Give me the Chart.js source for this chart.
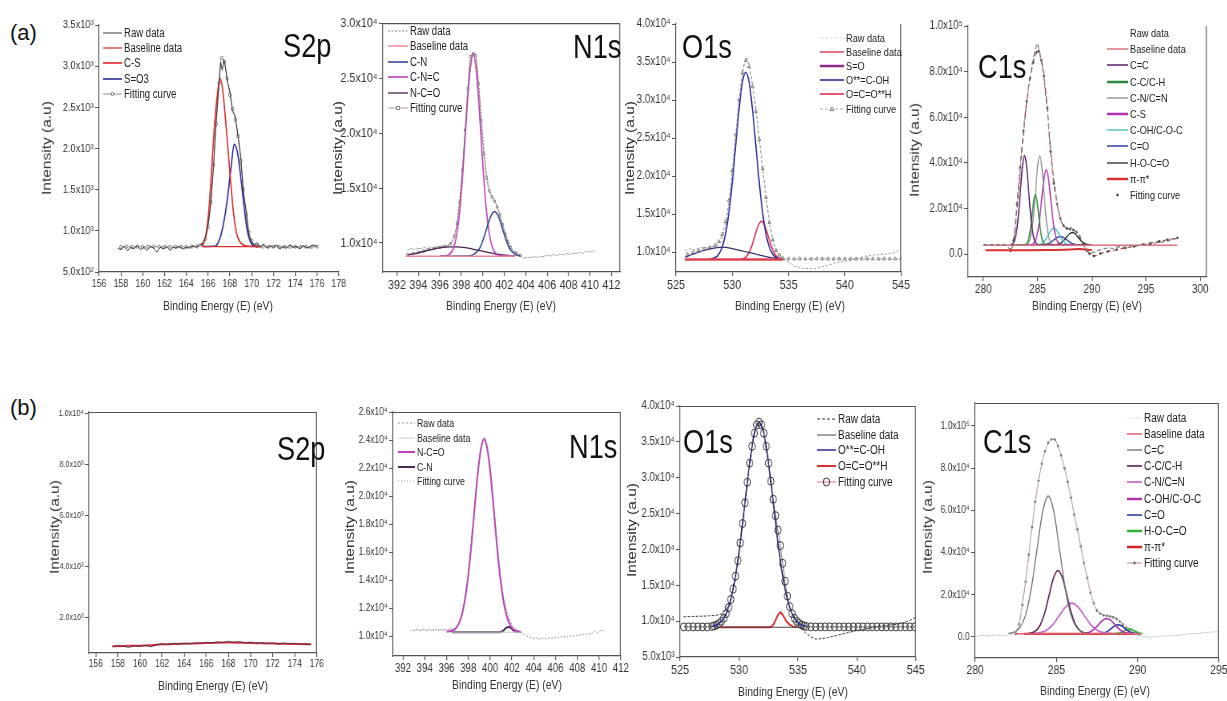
<!DOCTYPE html>
<html><head><meta charset="utf-8">
<script src="https://cdn.jsdelivr.net/npm/chart.js@4.4.1/dist/chart.umd.min.js"></script>
<style>
html,body{margin:0;padding:0;background:#fff;overflow:hidden;}
#page{position:relative;width:1227px;height:701px;overflow:hidden;background:#fff;color:#222;
  font-family:'Liberation Sans',Arial,sans-serif;}
.pc{position:absolute;transform-origin:0 0;}
.pc canvas{display:block;}
.ttl{position:absolute;font-size:34px;line-height:36px;white-space:nowrap;color:#111;z-index:5;transform:scaleX(0.8);transform-origin:0 50%;}
.tag{position:absolute;font-size:22px;line-height:26px;color:#111;}
.xt{position:absolute;font-size:13px;white-space:nowrap;transform:translate(-50%,-50%) scaleX(0.8);color:#333;}
.yt{position:absolute;font-size:15.5px;white-space:nowrap;color:#333;
  transform:translate(-50%,-50%) rotate(-90deg) scaleY(0.8);}
.li{position:absolute;white-space:nowrap;display:flex;align-items:center;height:16px;color:#222;z-index:6;}
.li svg{flex:none;}
.li span{display:inline-block;transform:scaleX(0.8);transform-origin:0 50%;margin-left:2px;}
</style>
</head>
<body>
<div id="page"></div>
<script>
// ---------- (a) S2p ----------
const a1Labels = ['Raw data','Baseline data','C-S','S=O3','Fitting curve'];
const a1XTicks = [156,158,160,162,164,166,168,170,172,174,176,178];
const a1YTicks = [500,1000,1500,2000,2500,3000,3500];
const a1Raw = [[157.7,790],[158.0,770],[158.3,810],[158.6,760],[158.9,800],[159.2,780],[159.5,820],[159.8,770],[160.1,800],[160.4,760],[160.7,810],[161.0,790],[161.3,740],[161.6,800],[161.9,780],[162.2,810],[162.5,760],[162.8,800],[163.1,790],[163.4,810],[163.7,780],[164.0,800],[164.3,790],[164.6,820],[164.9,800],[165.2,830],[165.5,850],[165.75,920],[166.0,1080],[166.25,1320],[166.5,1780],[166.75,2350],[167.0,2750],[167.15,3050],[167.3,2950],[167.45,3080],[167.6,2980],[167.75,2820],[168.0,2700],[168.25,2450],[168.5,2400],[168.75,2150],[169.0,1900],[169.25,1450],[169.5,1250],[169.75,950],[170.0,870],[170.25,820],[170.5,860],[170.8,800],[171.1,840],[171.4,790],[171.7,820],[172.0,800],[172.3,830],[172.6,780],[172.9,810],[173.2,790],[173.5,830],[173.8,800],[174.1,810],[174.4,780],[174.7,820],[175.0,800],[175.3,790],[175.6,830],[176.0,810]];
const a1Baseline = [[165.5,808],[170.8,808]];
const a1CS = [[165.4,812],[165.8,950],[166.1,1300],[166.35,1800],[166.6,2300],[166.85,2650],[167.1,2850],[167.35,2700],[167.6,2350],[167.85,1950],[168.1,1550],[168.35,1200],[168.6,980],[168.9,870],[169.3,825],[169.8,812],[170.8,810]];
const a1SO3 = [[165.5,810],[166.6,812],[166.9,850],[167.2,960],[167.5,1150],[167.8,1420],[168.1,1760],[168.4,2050],[168.7,1950],[169.0,1650],[169.3,1300],[169.6,1000],[169.9,860],[170.2,820],[170.6,810]];
const a1Fit = [[158,805],[158.5,808],[159,806],[159.5,808],[160,805],[160.5,807],[161,806],[161.5,808],[162,805],[162.5,807],[163,806],[163.5,808],[164,806],[164.5,808],[165,810],[165.5,830],[165.75,900],[166,1050],[166.25,1350],[166.5,1800],[166.75,2300],[167,2800],[167.25,3100],[167.5,3050],[167.75,2850],[168,2650],[168.25,2480],[168.5,2350],[168.75,2150],[169,1850],[169.25,1500],[169.5,1200],[169.75,980],[170,880],[170.25,830],[170.5,815],[171,808],[171.5,806],[172,808],[172.5,805],[173,807],[173.5,806],[174,808],[174.5,806],[175,807],[175.5,806],[176,808]];

// ---------- (a) N1s ----------
const a2Labels = ['Raw data','Baseline data','C-N','C-N=C','N-C=O','Fitting curve'];
const a2XTicks = [392,394,396,398,400,402,404,406,408,410,412];
const a2YTicks = [10000,15000,20000,25000,30000];
const a2Raw = [[393,9350],[393.3,9500],[393.6,9400],[393.9,9550],[394.2,9450],[394.5,9600],[394.8,9500],[395.1,9650],[395.4,9550],[395.7,9700],[396.0,9650],[396.3,9750],[396.6,9700],[396.9,9850],[397.2,10200],[397.5,11200],[397.8,13500],[398.1,16800],[398.4,20500],[398.7,24500],[399.0,26800],[399.2,27300],[399.4,26900],[399.7,23600],[400.0,19800],[400.3,16600],[400.6,14900],[400.9,14200],[401.2,13700],[401.5,12900],[401.8,11900],[402.1,10900],[402.4,10100],[402.7,9500],[403.0,9100],[403.3,8900],[403.6,8750],[403.9,8600],[404.2,8700],[404.5,8650],[404.8,8750],[405.1,8700],[405.4,8800],[405.7,8750],[406.0,8900],[406.3,8800],[406.6,8950],[406.9,8850],[407.2,9000],[407.5,8900],[407.8,9050],[408.1,8950],[408.4,9100],[408.7,9000],[409.0,9150],[409.3,9050],[409.6,9250],[409.9,9150],[410.2,9300],[410.5,9200]];
const a2Baseline = [[392.8,8800],[402.9,8800]];
const a2CN = [[396,8800],[398.6,8816],[399.1,8915],[399.6,9350],[399.85,9810],[400.1,10470],[400.35,11260],[400.6,12050],[400.85,12640],[401.1,12860],[401.35,12640],[401.6,12050],[401.85,11260],[402.1,10470],[402.35,9810],[402.6,9350],[403.1,8915],[403.5,8810]];
const a2CNC = [[396,8800],[396.6,8845],[397.1,9190],[397.35,9760],[397.6,10900],[397.85,12870],[398.1,15800],[398.35,19470],[398.6,23240],[398.85,26090],[399.1,27170],[399.35,26090],[399.6,23240],[399.85,19470],[400.1,15800],[400.35,12870],[400.6,10900],[400.85,9760],[401.1,9190],[401.6,8845],[402.9,8800]];
const a2NCO = [[393,8900],[394,9100],[395,9350],[396,9550],[397,9650],[397.5,9650],[398.5,9550],[399.5,9350],[400.5,9150],[401.5,8950],[402.5,8850],[403,8820]];
const a2Fit = [[393,8950],[393.5,9050],[394,9150],[394.5,9280],[395,9400],[395.5,9500],[396,9600],[396.5,9700],[397,9950],[397.35,10610],[397.6,11750],[397.85,13710],[398.1,16620],[398.35,20270],[398.6,24040],[398.85,26960],[399.1,27225],[399.35,27080],[399.6,24490],[399.85,21160],[400.1,18120],[400.35,15950],[400.6,14750],[400.85,14170],[401.1,13800],[401.35,13270],[401.6,12545],[401.85,11680],[402.1,10820],[402.35,10110],[402.6,9600],[403.1,9115],[403.5,8900]];

// ---------- (a) O1s ----------
const a3Labels = ['Raw data','Baseline data','S=O','O**=C-OH','O=C=O**H','Fitting curve'];
const a3XTicks = [525,530,535,540,545];
const a3YTicks = [10000,15000,20000,25000,30000,35000,40000];
const a3Raw = [[525.8,10200],[526.2,10400],[526.6,10300],[527,10500],[527.4,10600],[527.8,10550],[528.2,10700],[528.6,10800],[529.0,11300],[529.3,12800],[529.6,15200],[529.9,18900],[530.2,23500],[530.5,28300],[530.8,32500],[531.1,35000],[531.3,35600],[531.5,34700],[531.8,32100],[532.1,28800],[532.4,25000],[532.7,21000],[533.0,17300],[533.3,14000],[533.6,11600],[533.9,10200],[534.2,9400],[534.5,9000],[534.8,8800],[535.2,8500],[535.6,8100],[536.0,7950],[536.4,7800],[536.8,7850],[537.2,7750],[537.6,7900],[538.0,8100],[538.4,8200],[538.8,8400],[539.2,8600],[539.6,8700],[540.0,8800],[540.5,8900],[541,9100],[541.5,9300],[542,9500],[542.5,9600],[543,9650],[543.5,9700],[544,9800],[544.5,10000],[545,10300]];
const a3Baseline = [[525.8,9000],[534.5,9000]];
const a3SO = [[525.8,9300],[526.5,9700],[527.5,10200],[528.5,10550],[529.2,10650],[530,10450],[531,10100],[532,9750],[533,9400],[534,9120],[534.5,9020]];
const a3OCOH = [[527.9,9010],[528.5,9270],[528.8,9700],[529.1,10630],[529.4,12330],[529.7,15140],[530.0,19130],[530.3,23960],[530.6,28720],[530.9,32320],[531.2,33650],[531.5,32320],[531.8,28720],[532.1,23960],[532.4,19130],[532.7,15140],[533.0,12330],[533.3,10630],[533.6,9700],[533.9,9270],[534.5,9010]];
const a3OCOOH = [[530.8,9055],[531.1,9220],[531.4,9680],[531.7,10640],[532.0,12070],[532.3,13450],[532.6,14050],[532.9,13450],[533.2,12070],[533.5,10640],[533.8,9680],[534.1,9220],[534.4,9055]];
const a3Fit = [[526,9700],[526.5,9950],[527,10200],[527.5,10400],[528,10600],[528.5,10900],[528.8,11400],[529.1,12300],[529.4,14000],[529.7,16800],[530.0,20700],[530.3,25400],[530.6,30000],[530.9,33600],[531.2,35200],[531.5,34400],[531.8,31800],[532.1,28500],[532.4,24800],[532.7,21000],[533.0,17200],[533.3,13900],[533.6,11600],[533.9,10200],[534.2,9600],[534.5,9200],[535,9100],[535.5,9100],[536,9100],[536.5,9100],[537,9100],[537.5,9100],[538,9100],[538.5,9100],[539,9100],[539.5,9100],[540,9100],[540.5,9100],[541,9100],[541.5,9100],[542,9100],[542.5,9100],[543,9100],[543.5,9100],[544,9100],[544.5,9100],[545,9100]];

// ---------- (a) C1s ----------
const a4Labels = ['Raw data','Baseline data','C=C','C-C/C-H','C-N/C=N','C-S','C-OH/C-O-C','C=O','H-O-C=O','π-π*','Fitting curve'];
const a4XTicks = [280,285,290,295,300];
const a4YTicks = [0,20000,40000,60000,80000,100000];
const a4Raw = [[280,4300],[280.5,4000],[281,4400],[281.5,4100],[282,4200],[282.4,2500],[282.7,2200],[283.0,14000],[283.3,30000],[283.6,48000],[283.9,62000],[284.2,74000],[284.5,83000],[284.8,90000],[285.0,92500],[285.2,88000],[285.45,82000],[285.7,72000],[286.0,58000],[286.3,41000],[286.6,29000],[286.9,19500],[287.2,14000],[287.5,12000],[287.8,11000],[288.1,11500],[288.4,10500],[288.7,9000],[289.0,6500],[289.3,3500],[289.6,1200],[290.0,500],[290.5,1500],[291,2200],[291.5,2800],[292,2500],[292.5,3300],[293,3000],[293.5,3800],[294,3600],[294.5,4200],[295,4500],[295.5,4300],[296,5000],[296.5,5300],[297,5800],[297.5,6500],[297.9,7000]];
const a4Baseline = [[280,3950],[297.9,3950]];
const a4CC = [[282.5,4000],[282.6,4270],[282.8,5220],[283.0,8270],[283.2,15250],[283.4,26540],[283.6,38140],[283.8,43200],[284.0,38140],[284.2,26540],[284.4,15250],[284.6,8270],[284.8,5220],[285.0,4270],[285.2,4050],[289.8,4000]];
const a4CCH = [[282.5,4000],[283.9,4240],[284.05,4970],[284.2,6970],[284.35,11150],[284.5,17350],[284.65,23400],[284.8,26000],[284.95,23400],[285.1,17350],[285.25,11150],[285.4,6970],[285.55,4970],[285.7,4240],[285.9,4050],[289.8,4000]];
const a4CN = [[282.5,4000],[283.8,4050],[284.0,4270],[284.2,5220],[284.4,8270],[284.6,15250],[284.8,26540],[285.0,38140],[285.2,43200],[285.4,38140],[285.6,26540],[285.8,15250],[286.0,8270],[286.2,5220],[286.4,4270],[286.6,4050],[289.8,4000]];
const a4CS = [[282.5,4000],[284.2,4040],[284.4,4130],[284.6,4560],[284.8,5930],[285.0,9360],[285.2,15850],[285.4,24890],[285.6,33380],[285.8,36900],[286.0,33380],[286.2,24890],[286.4,15850],[286.6,9360],[286.8,5930],[287.0,4560],[287.2,4130],[287.4,4040],[289.8,4000]];
const a4COH = [[282.5,4000],[285.0,4080],[285.25,4330],[285.5,5000],[285.75,6400],[286.0,8490],[286.25,10530],[286.5,11400],[286.75,10530],[287.0,8490],[287.25,6400],[287.5,5000],[287.75,4330],[288.0,4080],[289.8,4000]];
const a4CO = [[282.5,4000],[285.3,4040],[285.6,4160],[285.9,4500],[286.2,5200],[286.5,6250],[286.8,7260],[287.1,7700],[287.4,7260],[287.7,6250],[288.0,5200],[288.3,4500],[288.6,4160],[288.9,4040],[289.8,4000]];
const a4HOCO = [[282.5,4000],[286.55,4060],[286.825,4240],[287.1,4740],[287.375,5790],[287.65,7340],[287.925,8850],[288.2,9500],[288.475,8850],[288.75,7340],[289.025,5790],[289.3,4740],[289.575,4240],[289.85,4060],[290.0,4000]];
const a4PiPi = [[280.2,1700],[283,1750],[286,1850],[288,2100],[288.8,2300],[289.5,2000],[290,1800]];
const a4Fit = [[282.5,1500],[282.8,6000],[283.1,22000],[283.4,38000],[283.7,54000],[284.0,67000],[284.3,77000],[284.6,84000],[284.9,88500],[285.1,89000],[285.35,85000],[285.6,78000],[285.9,64000],[286.2,45000],[286.5,31000],[286.8,22000],[287.1,15500],[287.4,12500],[287.7,11300],[288.0,11000],[288.3,10600],[288.6,9600],[288.9,7500],[289.2,4600],[289.5,1800],[289.8,200],[290.2,-800],[290.8,300],[291.5,1200],[292.3,2000],[293.1,2700],[293.9,3400],[294.7,4200],[295.4,4800],[296.2,5600],[297.0,6300],[297.9,7200]];

// ---------- (b) S2p ----------
const b1Labels = ['Raw data','Fitting curve'];
const b1XTicks = [156,158,160,162,164,166,168,170,172,174,176];
const b1YTicks = [2000,4000,6000,8000,10000];
const b1Raw = [[157.5,840],[158,900],[158.5,860],[159,820],[159.5,880],[160,850],[160.5,900],[161,840],[161.5,920],[162,960],[162.5,930],[163,980],[163.5,950],[164,990],[164.5,960],[165,1000],[165.5,980],[166,1020],[166.5,990],[167,1040],[167.5,1010],[168,1060],[168.5,1020],[169,1050],[169.5,990],[170,1030],[170.5,980],[171,1010],[171.5,970],[172,1000],[172.5,950],[173,990],[173.5,960],[174,980],[174.5,940],[175,960],[175.5,930]];
const b1Fit = [[157.5,860],[159,880],[161,900],[162,940],[164,960],[166,990],[168,1010],[170,990],[172,970],[174,950],[175.5,940]];

// ---------- (b) N1s ----------
const b2Labels = ['Raw data','Baseline data','N-C=O','C-N','Fitting curve'];
const b2XTicks = [392,394,396,398,400,402,404,406,408,410,412];
const b2YTicks = [10000,12000,14000,16000,18000,20000,22000,24000,26000];
const b2Raw = [[392.7,10450],[393,10380],[393.3,10500],[393.6,10420],[393.9,10520],[394.2,10400],[394.5,10480],[394.8,10430],[395.1,10530],[395.4,10420],[395.7,10500],[396,10450],[396.3,10550],[396.6,10480],[396.9,10700],[397.2,11000],[397.5,11900],[397.8,13300],[398.1,15200],[398.4,17700],[398.7,20300],[399.0,22500],[399.3,23800],[399.5,24200],[399.7,23700],[400.0,22200],[400.3,19800],[400.6,17000],[400.9,14700],[401.2,12900],[401.5,11800],[401.8,11100],[402.1,10700],[402.4,10450],[402.7,10350],[403.0,10200],[403.3,10050],[403.6,9950],[403.9,9850],[404.2,9900],[404.5,9800],[404.8,9870],[405.1,9820],[405.4,9900],[405.7,9850],[406,9950],[406.3,9900],[406.6,10000],[406.9,9950],[407.2,10050],[407.5,10000],[407.8,10100],[408.1,10050],[408.4,10150],[408.7,10100],[409,10200],[409.3,10150],[409.6,10400],[409.9,10250],[410.2,10450],[410.5,10350]];
const b2Baseline = [[396.5,10300],[402.5,10300]];
const b2NCO = [[396.0,10330],[396.45,10380],[396.75,10500],[397.05,10790],[397.35,11370],[397.65,12420],[397.95,14040],[398.25,16280],[398.55,18910],[398.85,21470],[399.15,23350],[399.45,24050],[399.75,23350],[400.05,21470],[400.35,18910],[400.65,16280],[400.95,14040],[401.25,12420],[401.55,11370],[401.85,10790],[402.15,10500],[402.45,10380],[402.8,10320]];
const b2CN = [[396.5,10300],[400.8,10300],[401.1,10350],[401.3,10470],[401.5,10620],[401.7,10670],[401.9,10600],[402.1,10450],[402.3,10350],[402.5,10300]];
const b2Fit = [[393,10450],[394,10450],[395,10450],[396,10450],[396.5,10480],[397,10800],[397.3,11400],[397.6,12400],[397.9,14000],[398.2,16200],[398.5,18800],[398.8,21400],[399.1,23300],[399.45,24200],[399.8,23300],[400.1,21400],[400.4,18800],[400.7,16200],[401.0,14100],[401.3,12600],[401.6,11700],[401.9,11000],[402.2,10600],[402.5,10420],[403,10400]];

// ---------- (b) O1s ----------
const b3Labels = ['Raw data','Baseline data','O**=C-OH','O=C=O**H','Fitting curve'];
const b3XTicks = [525,530,535,540,545];
const b3YTicks = [5000,10000,15000,20000,25000,30000,35000,40000];
const b3Raw = [[525.3,10600],[526,10650],[527,10700],[527.5,10750],[528,10800],[528.5,11000],[528.9,11600],[529.3,13200],[529.7,16400],[530.1,21000],[530.5,26600],[530.9,32100],[531.3,36300],[531.7,37900],[532.1,36300],[532.5,32000],[532.9,26500],[533.3,21000],[533.7,16400],[534.1,13000],[534.5,11000],[534.9,9800],[535.3,9000],[535.7,8300],[536.1,7800],[536.5,7500],[537,7550],[537.5,7700],[538,7900],[538.5,8100],[539,8300],[539.5,8500],[540,8700],[540.5,8850],[541,9000],[541.5,9150],[542,9300],[542.5,9400],[543,9500],[543.5,9600],[544,9800],[544.5,10100],[545,10500]];
const b3Baseline = [[528,9150],[535.5,9150]];
const b3OCOH = [[527.7,9260],[528.1,9470],[528.5,9970],[528.9,11040],[529.3,13010],[529.7,16270],[530.1,20910],[530.5,26510],[530.9,32030],[531.3,36200],[531.7,37750],[532.1,36200],[532.5,32030],[532.9,26510],[533.3,20910],[533.7,16270],[534.1,13010],[534.5,11040],[534.9,9970],[535.3,9470],[535.7,9260]];
const b3OCOOH = [[528.4,9150],[532.6,9150],[532.9,9500],[533.2,10500],[533.5,11250],[533.8,10600],[534.1,9800],[534.5,9300],[534.9,9150]];
const b3Fit = [[525.3,9200],[525.7,9200],[526.1,9200],[526.5,9200],[526.9,9200],[527.3,9200],[527.7,9260],[527.9,9340],[528.1,9470],[528.3,9670],[528.5,9970],[528.7,10410],[528.9,11040],[529.1,11880],[529.3,13010],[529.5,14470],[529.7,16270],[529.9,18440],[530.1,20910],[530.3,23620],[530.5,26510],[530.7,29370],[530.9,32030],[531.1,34380],[531.3,36200],[531.5,37350],[531.7,37750],[531.9,37350],[532.1,36200],[532.3,34380],[532.5,32030],[532.7,29520],[532.9,26990],[533.1,24710],[533.3,22700],[533.5,20540],[533.7,18060],[533.9,15560],[534.1,13490],[534.3,12030],[534.5,11040],[534.7,10410],[534.9,9970],[535.1,9670],[535.3,9470],[535.5,9340],[535.7,9260],[536.1,9200],[536.5,9200],[536.9,9200],[537.3,9200],[537.7,9200],[538.1,9200],[538.5,9200],[538.9,9200],[539.3,9200],[539.7,9200],[540.1,9200],[540.5,9200],[540.9,9200],[541.3,9200],[541.7,9200],[542.1,9200],[542.5,9200],[542.9,9200],[543.3,9200],[543.7,9200],[544.1,9200],[544.5,9200],[544.9,9200]];

// ---------- (b) C1s ----------
const b4Labels = ['Raw data','Baseline data','C=C','C-C/C-H','C-N/C=N','C-OH/C-O-C','C=O','H-O-C=O','π-π*','Fitting curve'];
const b4XTicks = [280,285,290,295];
const b4YTicks = [0,20000,40000,60000,80000,100000];
const b4Raw = [[280,300],[280.4,700],[280.8,500],[281.2,900],[281.6,600],[282,800],[282.4,1200],[282.7,5500],[282.9,15500],[283.1,26500],[283.3,38500],[283.5,52500],[283.7,63500],[283.9,74500],[284.1,81500],[284.3,88500],[284.5,91500],[284.7,94000],[284.9,93000],[285.1,91000],[285.3,85500],[285.5,80500],[285.7,73000],[285.9,66500],[286.1,57500],[286.3,51500],[286.5,42500],[286.7,35500],[286.9,27500],[287.1,21500],[287.3,15500],[287.5,13000],[287.7,10500],[287.9,10800],[288.1,9500],[288.3,10200],[288.5,9000],[288.7,9000],[288.9,7000],[289.1,6200],[289.3,4000],[289.5,3300],[289.7,1700],[289.9,1200],[290.3,200],[290.8,-200],[291.3,300],[291.8,600],[292.3,500],[292.8,1100],[293.3,1500],[293.8,1700],[294.3,2200],[294.8,2400],[295,2500]];
const b4Baseline = [[282.5,1550],[290.2,1550]];
const b4CC = [[282.05,1640],[282.4,2220],[282.75,4370],[283.1,10320],[283.45,22720],[283.8,41140],[284.15,59100],[284.5,66800],[284.85,59100],[285.2,41140],[285.55,22720],[285.9,10320],[286.25,4370],[286.6,2220],[286.95,1640],[287.3,1520]];
const b4CCH = [[283.2,1520],[283.45,1830],[283.725,2820],[284.0,5550],[284.275,11250],[284.55,19710],[284.825,27960],[285.1,31500],[285.375,27960],[285.65,19710],[285.925,11250],[286.2,5550],[286.475,2820],[286.75,1830],[287.0,1550]];
const b4CN = [[283.4,1530],[283.7,1660],[284.075,2140],[284.45,3460],[284.825,6210],[285.2,10300],[285.575,14290],[285.95,16000],[286.325,14290],[286.7,10300],[287.075,6210],[287.45,3460],[287.825,2140],[288.2,1660],[288.5,1530]];
const b4COH = [[286.3,1520],[286.6,1580],[286.85,1820],[287.1,2470],[287.35,3840],[287.6,5870],[287.85,7850],[288.1,8700],[288.35,7850],[288.6,5870],[288.85,3840],[289.1,2470],[289.35,1820],[289.6,1580],[289.9,1520]];
const b4CO = [[287.6,1520],[287.8,1690],[288.0,2080],[288.2,2900],[288.4,4110],[288.6,5290],[288.8,5800],[289.0,5290],[289.2,4110],[289.4,2900],[289.6,2080],[289.8,1690],[290.0,1520]];
const b4HOCO = [[288.4,1500],[288.6,1530],[288.9,1810],[289.2,2900],[289.5,3800],[289.8,2900],[290.1,1810],[290.3,1550]];
const b4PiPi = [[283.0,1400],[286,1450],[290,1450]];
const b4Fit = [[282.5,1500],[282.7,6000],[282.9,15000],[283.1,26000],[283.3,39000],[283.5,52000],[283.7,64000],[283.9,74000],[284.1,82000],[284.3,88000],[284.5,92000],[284.7,93700],[284.9,93500],[285.1,90500],[285.3,86000],[285.5,80000],[285.7,73500],[285.9,66000],[286.1,58000],[286.3,51000],[286.5,43000],[286.7,35000],[286.9,28000],[287.1,21000],[287.3,16000],[287.5,12500],[287.7,11000],[287.9,10300],[288.1,10000],[288.3,9800],[288.5,9300],[288.7,8600],[288.9,7300],[289.1,5900],[289.3,4300],[289.5,3000],[289.7,2000],[289.9,1500],[290.1,1200]];

const xTitle = 'Binding Energy (E) (eV)';
const yTitle = 'Intensity (a.u)';

// ---------- rendering ----------
const FONT = "'Liberation Sans', Arial, sans-serif";
const SX = 0.8;                       // horizontal compression of the original figure
const PADL = 60, PADT = 10, PADR = 18, PADB = 26;
const SUP = '⁰¹²³⁴⁵⁶⁷⁸⁹';
function sup(n){ return String(n).split('').map(c => SUP[+c]).join(''); }
function sci(v){
  if (v === 0) return '0.0';
  const e = Math.floor(Math.log10(Math.abs(v)) + 1e-9);
  const m = v / Math.pow(10, e);
  return m.toFixed(1) + 'x10' + sup(e);
}
const framePlugin = {
  id: 'frame',
  afterDraw(chart, args, opts) {
    const a = chart.chartArea, ctx = chart.ctx;
    ctx.save(); ctx.strokeStyle = '#555'; ctx.lineWidth = 1.2; ctx.beginPath();
    if (opts.top) { ctx.moveTo(a.left, a.top + 0.5); ctx.lineTo(a.right, a.top + 0.5); }
    if (opts.right) { ctx.moveTo(a.right - 0.5, a.top); ctx.lineTo(a.right - 0.5, a.bottom); }
    ctx.stroke(); ctx.restore();
  }
};
const page = document.getElementById('page');
function addText(cls, txt, css){
  const d = document.createElement('div'); d.className = cls; d.textContent = txt;
  Object.assign(d.style, css); page.appendChild(d); return d;
}
function markerSvg(s, cx, cy){
  if (!s.r) return '';
  const fill = s.mfill || s.mcolor || s.color, st = s.mcolor || s.color, r = s.r;
  if (s.ps === 'rect') return `<rect x="${cx-r}" y="${cy-r}" width="${2*r}" height="${2*r}" fill="${fill}" stroke="${st}" stroke-width="1"/>`;
  if (s.ps === 'triangle') return `<polygon points="${cx},${cy-r} ${cx-r},${cy+r*0.8} ${cx+r},${cy+r*0.8}" fill="${fill}" stroke="${st}" stroke-width="1"/>`;
  return `<ellipse cx="${cx}" cy="${cy}" rx="${r*SX}" ry="${r}" fill="${fill}" stroke="${st}" stroke-width="1"/>`;
}
function panel(p){
  const [l, t, r, b] = p.rect;
  const div = document.createElement('div'); div.className = 'pc';
  Object.assign(div.style, {left:(l-PADL*SX)+'px', top:(t-PADT)+'px',
    width:((r-l)/SX+PADL+PADR)+'px', height:(b-t+PADT+PADB)+'px', transform:`scaleX(${SX})`});
  const cv = document.createElement('canvas'); div.appendChild(cv); page.appendChild(div);
  new Chart(cv, {
    type: 'line',
    data: { datasets: p.series.map(s => ({
      label: s.label,
      data: s.data.map(([x, y]) => ({x, y})),
      borderColor: s.color, backgroundColor: s.color,
      borderWidth: s.w || 1, borderDash: s.dash || [],
      pointRadius: s.r || 0, pointStyle: s.ps || 'circle',
      pointBorderColor: s.mcolor || s.color, pointBackgroundColor: s.mfill || s.mcolor || s.color,
      pointBorderWidth: 1, showLine: true,
      cubicInterpolationMode: s.smooth ? 'monotone' : 'default', tension: 0, fill: false
    })) },
    options: {
      responsive: true, maintainAspectRatio: false, animation: false, events: [],
      layout: { padding: { left: 0, top: PADT, right: PADR, bottom: 0 } },
      plugins: { legend: { display: false }, tooltip: { enabled: false }, frame: p.box },
      scales: {
        x: { type: 'linear', bounds: 'data', min: p.xr[0], max: p.xr[1],
          afterBuildTicks: a => { a.ticks = p.xt.map(v => ({value: v})); },
          afterFit: a => { a.height = PADB; },
          ticks: { autoSkip: false, maxRotation: 0, padding: 1, color: '#333', font: {family: FONT, size: p.fx}, callback: v => String(v) },
          grid: { drawOnChartArea: false, tickLength: 4, color: '#555', lineWidth: 1.2 },
          border: { display: true, color: '#555', width: 1.2 } },
        y: { type: 'linear', bounds: 'data', min: p.yr[0], max: p.yr[1],
          afterBuildTicks: a => { a.ticks = p.yt.map(v => ({value: v})); },
          afterFit: a => { a.width = PADL; },
          ticks: { autoSkip: false, padding: 2, color: '#333', font: {family: FONT, size: p.fy}, callback: v => sci(v) },
          grid: { drawOnChartArea: false, tickLength: 5, color: '#555', lineWidth: 1 },
          border: { display: true, color: '#555', width: 1.2 } }
      }
    },
    plugins: [framePlugin]
  });
  addText('ttl', p.title, {left: p.tpos[0]+'px', top: (p.tpos[1]-18)+'px'});
  addText('xt', xTitle, {left: p.xtpos[0]+'px', top: p.xtpos[1]+'px'});
  addText('yt', yTitle, {left: p.ytpos[0]+'px', top: p.ytpos[1]+'px'});
  if (p.leg) {
    const [x0, xText, y0, dy, fs] = p.leg;
    const W = xText - x0 - 2;
    p.series.forEach((s, i) => {
      const d = document.createElement('div'); d.className = 'li';
      Object.assign(d.style, {left: x0+'px', top: (y0 + i*dy - 8)+'px', fontSize: fs+'px'});
      const dash = s.legDash || (s.dash ? s.dash.join(',') : 'none');
      const lineCol = s.legColor || s.color;
      d.innerHTML = `<svg width="${W}" height="16"><line x1="0" y1="8" x2="${W}" y2="8" stroke="${lineCol}" stroke-width="${s.legW || s.w || 1}" stroke-dasharray="${dash}"/>${markerSvg(s, W/2, 8)}</svg><span>${s.label}</span>`;
      page.appendChild(d);
    });
  }
}

addText('tag', '(a)', {left:'10px', top:'20px'});
addText('tag', '(b)', {left:'10px', top:'395px'});

panel({ rect:[99,25,338,272], xr:[156,178], yr:[500,3500], xt:a1XTicks, yt:a1YTicks, box:{}, fx:11, fy:11.5,
  title:'S2p', tpos:[283,45], xtpos:[218,305], ytpos:[47,148], leg:[103,124,33,15.2,12],
  series:[
    {label:a1Labels[0], data:a1Raw, color:'#222', w:0.9},
    {label:a1Labels[1], data:a1Baseline, color:'#d83030', w:1.2},
    {label:a1Labels[2], data:a1CS, color:'#e02828', w:1.6, smooth:true},
    {label:a1Labels[3], data:a1SO3, color:'#2a2a9a', w:1.6, smooth:true},
    {label:a1Labels[4], data:a1Fit, color:'#8a6a6a', w:0.8, r:1.6, mcolor:'#777', mfill:'#fff', smooth:true}
  ]});

panel({ rect:[383,23,620,272], xr:[390.7,412.8], yr:[7360,30000], xt:a2XTicks, yt:a2YTicks, box:{top:true,right:true}, fx:13.5, fy:13.5,
  title:'N1s', tpos:[573,46], xtpos:[501,305], ytpos:[338,148], leg:[388,410,31,15.4,12],
  series:[
    {label:a2Labels[0], data:a2Raw, color:'#666', w:0.8, dash:[2,1.5]},
    {label:a2Labels[1], data:a2Baseline, color:'#f08898', w:1.5},
    {label:a2Labels[2], data:a2CN, color:'#283c8c', w:1.5, smooth:true},
    {label:a2Labels[3], data:a2CNC, color:'#c040b8', w:1.6, smooth:true},
    {label:a2Labels[4], data:a2NCO, color:'#4a2050', w:1.3, smooth:true},
    {label:a2Labels[5], data:a2Fit, color:'#a08080', w:0.8, r:1.5, ps:'rect', mcolor:'#888', mfill:'#fff', smooth:true}
  ]});

panel({ rect:[676,24,901,272], xr:[525,545], yr:[7370,40000], xt:a3XTicks, yt:a3YTicks, box:{right:true}, fx:13.5, fy:12.3,
  title:'O1s', tpos:[682,46], xtpos:[790,305], ytpos:[630,148], leg:[820,846,38,14.1,11.5],
  series:[
    {label:a3Labels[0], data:a3Raw, color:'#888', w:0.8, dash:[3,2], legColor:'#ccc'},
    {label:a3Labels[1], data:a3Baseline, color:'#e04050', w:2.5, legW:1.5},
    {label:a3Labels[2], data:a3SO, color:'#3a2a70', w:1.2, smooth:true, legColor:'#8a2a8a', legW:2.5},
    {label:a3Labels[3], data:a3OCOH, color:'#2a2a9a', w:1.6, smooth:true},
    {label:a3Labels[4], data:a3OCOOH, color:'#e03050', w:1.6, smooth:true},
    {label:a3Labels[5], data:a3Fit, color:'#999', w:0.8, dash:[3,2], r:2, ps:'triangle', mcolor:'#777', mfill:'#fff', smooth:true}
  ]});

panel({ rect:[968,26,1206,277], xr:[278.6,300.6], yr:[-10000,100000], xt:a4XTicks, yt:a4YTicks, box:{right:true}, fx:12.5, fy:12,
  title:'C1s', tpos:[978,66], xtpos:[1087,305], ytpos:[915,150], leg:[1107,1130,33,16.2,11.5],
  series:[
    {label:a4Labels[0], data:a4Raw, color:'#777', w:1.2, dash:[5,3], legColor:'#fff'},
    {label:a4Labels[1], data:a4Baseline, color:'#e07080', w:1.5},
    {label:a4Labels[2], data:a4CC, color:'#5a1e6e', w:1.5, smooth:true},
    {label:a4Labels[3], data:a4CCH, color:'#2e8b3e', w:1.5, smooth:true, legW:2.5},
    {label:a4Labels[4], data:a4CN, color:'#8a8a8a', w:1.3, smooth:true},
    {label:a4Labels[5], data:a4CS, color:'#b030b0', w:1.5, smooth:true, legW:2.5},
    {label:a4Labels[6], data:a4COH, color:'#50c8c8', w:1.5, smooth:true},
    {label:a4Labels[7], data:a4CO, color:'#3040a0', w:1.5, smooth:true},
    {label:a4Labels[8], data:a4HOCO, color:'#222', w:1.3, smooth:true},
    {label:a4Labels[9], data:a4PiPi, color:'#d83030', w:2, smooth:true, legW:2.5},
    {label:a4Labels[10], data:a4Fit, color:'#9a4040', w:1.1, dash:[6,3], r:1, mcolor:'#444', smooth:true, legColor:'#fff'}
  ]});

panel({ rect:[89,412,316,653], xr:[155.4,176], yr:[600,10040], xt:b1XTicks, yt:b1YTicks, box:{top:true,right:true}, fx:10.5, fy:9,
  title:'S2p', tpos:[277,448], xtpos:[213,685], ytpos:[55,527], leg:null,
  series:[
    {label:b1Labels[0], data:b1Raw, color:'#333', w:0.8},
    {label:b1Labels[1], data:b1Fit, color:'#e03050', w:2, smooth:true}
  ]});

panel({ rect:[393,412,620,656], xr:[391.1,412], yr:[8600,26000], xt:b2XTicks, yt:b2YTicks, box:{top:true,right:true}, fx:12, fy:10.5,
  title:'N1s', tpos:[569,446], xtpos:[507,684], ytpos:[350,527], leg:[398,417,423,14.5,11],
  series:[
    {label:b2Labels[0], data:b2Raw, color:'#777', w:0.8, dash:[2,2]},
    {label:b2Labels[1], data:b2Baseline, color:'#ccc', w:1},
    {label:b2Labels[2], data:b2NCO, color:'#c040c0', w:2, smooth:true},
    {label:b2Labels[3], data:b2CN, color:'#4a2a55', w:2, smooth:true},
    {label:b2Labels[4], data:b2Fit, color:'#999', w:1, dash:[1,2], smooth:true}
  ]});

panel({ rect:[680,406,915,657], xr:[525,545], yr:[5000,40000], xt:b3XTicks, yt:b3YTicks, box:{top:true,right:true}, fx:13.5, fy:12,
  title:'O1s', tpos:[683,441], xtpos:[793,691], ytpos:[632,530], leg:[817,838,419,15.7,12.5],
  series:[
    {label:b3Labels[0], data:b3Raw, color:'#333', w:1, dash:[3,2]},
    {label:b3Labels[1], data:b3Baseline, color:'#444', w:1},
    {label:b3Labels[2], data:b3OCOH, color:'#2a2a90', w:1.5, smooth:true},
    {label:b3Labels[3], data:b3OCOOH, color:'#d83030', w:2, smooth:true},
    {label:b3Labels[4], data:b3Fit, color:'#555', w:0.8, r:4, mcolor:'#333', mfill:'rgba(255,255,255,0)', smooth:true, legColor:'#e05070'}
  ]});

panel({ rect:[975,403,1218,658], xr:[280,295], yr:[-10000,110900], xt:b4XTicks, yt:b4YTicks, box:{top:true,right:true}, fx:13, fy:10.5,
  title:'C1s', tpos:[983,441], xtpos:[1095,690], ytpos:[928,527], leg:[1127,1144,418,16.1,12.5],
  series:[
    {label:b4Labels[0], data:b4Raw, color:'#bbb', w:1, dash:[2,1], legColor:'#ddd'},
    {label:b4Labels[1], data:b4Baseline, color:'#e06070', w:1.5},
    {label:b4Labels[2], data:b4CC, color:'#707070', w:1.3, smooth:true},
    {label:b4Labels[3], data:b4CCH, color:'#5a2050', w:1.6, smooth:true},
    {label:b4Labels[4], data:b4CN, color:'#c060c0', w:1.6, smooth:true},
    {label:b4Labels[5], data:b4COH, color:'#b030b0', w:1.6, smooth:true, legW:2.5},
    {label:b4Labels[6], data:b4CO, color:'#2030a0', w:1.5, smooth:true},
    {label:b4Labels[7], data:b4HOCO, color:'#30b030', w:1.6, smooth:true, legW:2.5},
    {label:b4Labels[8], data:b4PiPi, color:'#d02020', w:2.2, legW:2.5},
    {label:b4Labels[9], data:b4Fit, color:'#b08080', w:0.9, r:1, mcolor:'#666', smooth:true}
  ]});
</script>
</body></html>
